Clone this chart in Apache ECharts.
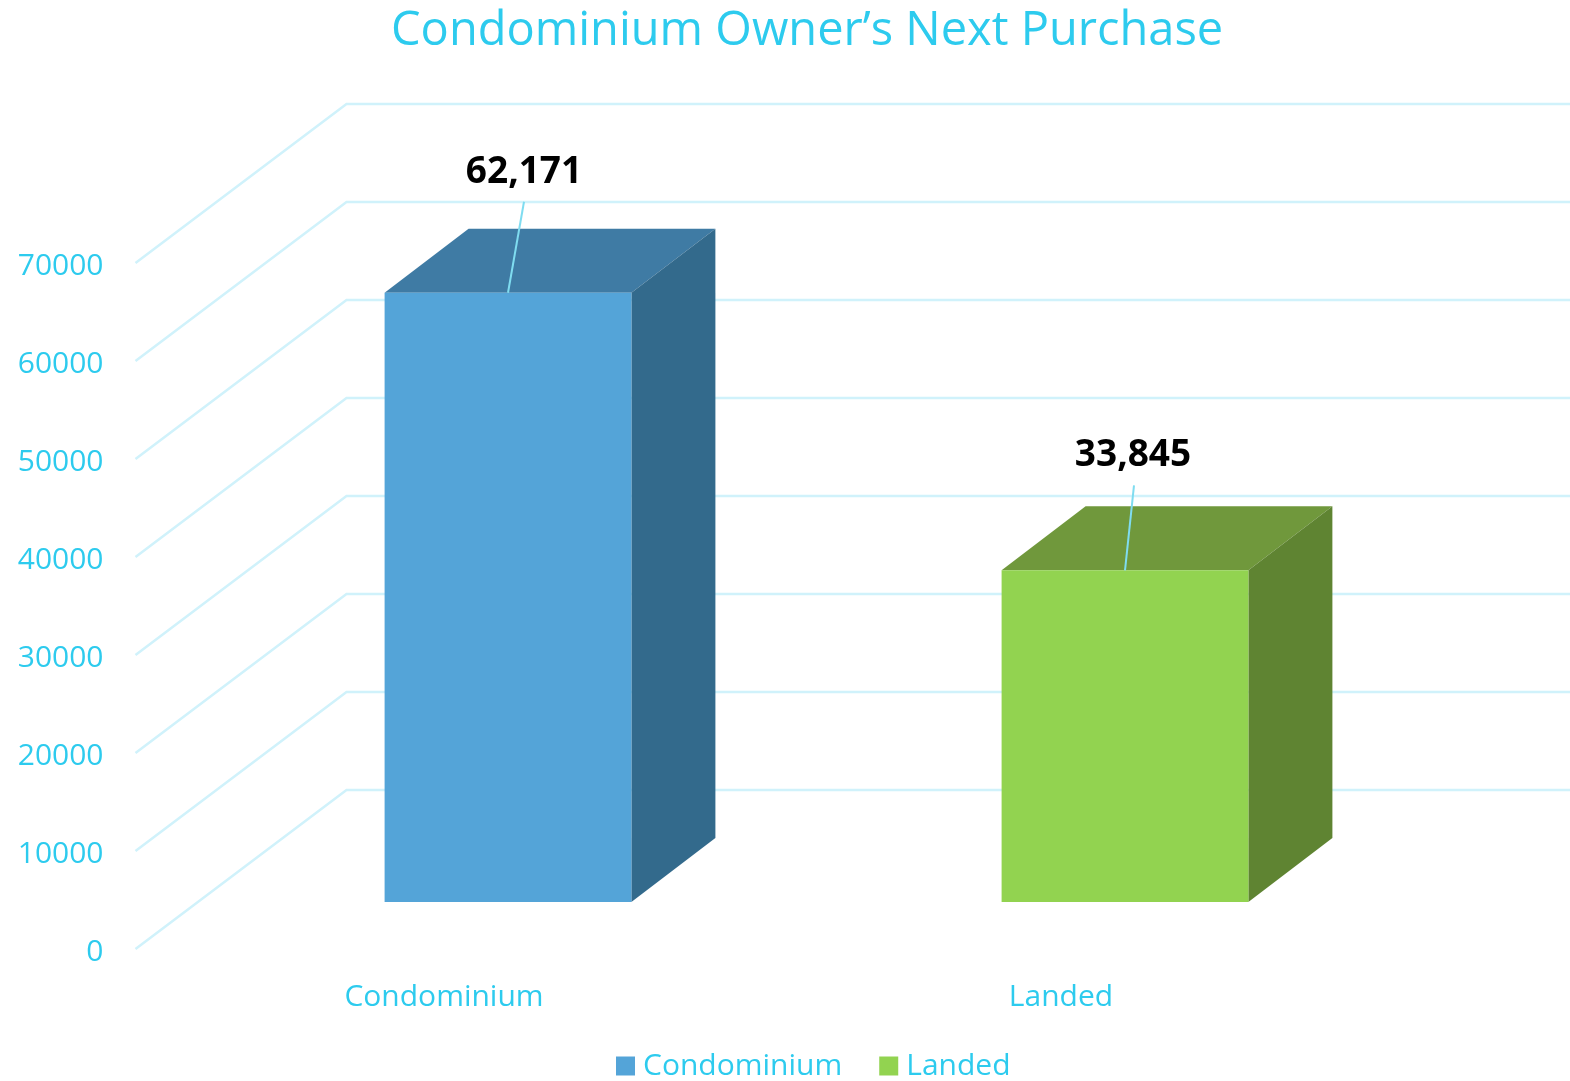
<!DOCTYPE html>
<html>
<head>
<meta charset="utf-8">
<style>
  html, body { margin: 0; padding: 0; background: #fff; }
  #chart { width: 1570px; height: 1081px; }
</style>
<script src="https://cdn.jsdelivr.net/npm/echarts@6/dist/echarts.min.js"></script>
</head>
<body>
<div id="chart"></div>
<script>
const categories = ['Condominium', 'Landed'];
const condominiumValues = [62171];
const landedValues = [33845];
const yTicks = [0, 10000, 20000, 30000, 40000, 50000, 60000, 70000];

const textColor = '#2dcbee';
const font = '"Open Sans", "Noto Sans", sans-serif';

// fake 3d: wall is pushed back from the front plane, bars stand half way
const wallDx = 211, wallDy = -159;
const barDx = 64, barDy = -47;
const depthDx = 84, depthDy = -64;

function renderGrid(params, api) {
  const v = api.value(1);
  const band = api.size([1, 0])[0];
  const a = api.coord([0, v]);
  const b = api.coord([1, v]);
  const x0 = a[0] - band / 2;
  const x1 = b[0] + band / 2;
  return {
    type: 'polyline',
    silent: true,
    shape: { points: [[x0, a[1]], [x0 + wallDx, a[1] + wallDy], [x1 + wallDx, a[1] + wallDy]] },
    style: { fill: null, stroke: '#d0f2fb', lineWidth: 2.5 }
  };
}

function makeBox(front, top, side, leader) {
  return function (params, api) {
    const cat = api.value(0);
    const val = api.value(1);
    const band = api.size([1, 0])[0];
    const w = band * 0.4;
    const t = api.coord([cat, val]);
    const z = api.coord([cat, 0]);
    const xl = t[0] + barDx - w / 2;
    const xr = xl + w;
    const yt = t[1] + barDy;
    const yb = z[1] + barDy;
    const mid = t[0] + barDx;
    return {
      type: 'group',
      children: [
        { type: 'polygon', shape: { points: [[xl, yt], [xl + depthDx, yt + depthDy], [xr + depthDx, yt + depthDy], [xr, yt]] }, style: { fill: top } },
        { type: 'polygon', shape: { points: [[xr, yt], [xr + depthDx, yt + depthDy], [xr + depthDx, yb + depthDy], [xr, yb]] }, style: { fill: side } },
        { type: 'rect', shape: { x: xl, y: yt, width: w, height: yb - yt }, style: { fill: front } },
        { type: 'line', shape: { x1: mid, y1: yt, x2: mid + leader[0], y2: yt + leader[1] }, style: { stroke: '#7fdcf0', lineWidth: 2 } },
        {
          type: 'text',
          style: {
            x: mid + leader[2],
            y: yt + leader[3],
            text: val.toLocaleString('en-US'),
            fill: '#000',
            font: 'bold 37px ' + font,
            align: 'center',
            verticalAlign: 'middle'
          }
        }
      ]
    };
  };
}

const chart = echarts.init(document.getElementById('chart'), null, { renderer: 'canvas' });

chart.setOption({
  animation: false,
  backgroundColor: '#fff',
  title: {
    text: 'Condominium Owner’s Next Purchase',
    left: 386,
    top: 3,
    textStyle: { color: textColor, fontFamily: font, fontWeight: 'normal', fontSize: 47 }
  },
  legend: {
    data: categories,
    left: 611,
    top: 1046,
    icon: 'rect',
    itemWidth: 19,
    itemHeight: 19,
    itemGap: 37,
    textStyle: { color: textColor, fontFamily: font, fontSize: 30, padding: [0, 0, 0, 3] }
  },
  grid: { left: 135.5, width: 1234, top: 263, height: 686 },
  xAxis: {
    type: 'category',
    data: categories,
    axisLine: { show: false },
    axisTick: { show: false },
    axisLabel: { color: textColor, fontFamily: font, fontSize: 30, margin: 33, interval: 0 }
  },
  yAxis: {
    type: 'value',
    min: 0,
    max: 70000,
    interval: 10000,
    splitLine: { show: false },
    axisLine: { show: false },
    axisTick: { show: false },
    axisLabel: {
      color: textColor,
      fontFamily: font,
      fontSize: 30,
      margin: 32,
      verticalAlign: 'top',
      lineHeight: 6,
      formatter: v => String(v)
    }
  },
  series: [
    {
      type: 'custom',
      name: 'wall',
      z: 1,
      silent: true,
      renderItem: renderGrid,
      data: yTicks.map(v => [0, v])
    },
    {
      type: 'custom',
      name: categories[0],
      z: 2,
      itemStyle: { color: '#54a4d8' },
      renderItem: makeBox('#54a4d8', '#3f7ba4', '#336a8c', [16, -91, 16, -120]),
      data: condominiumValues.map(v => [0, v])
    },
    {
      type: 'custom',
      name: categories[1],
      z: 2,
      itemStyle: { color: '#92d350' },
      renderItem: makeBox('#92d350', '#70983c', '#5f8432', [9, -85, 8, -115]),
      data: landedValues.map(v => [1, v])
    }
  ]
});
</script>
</body>
</html>
